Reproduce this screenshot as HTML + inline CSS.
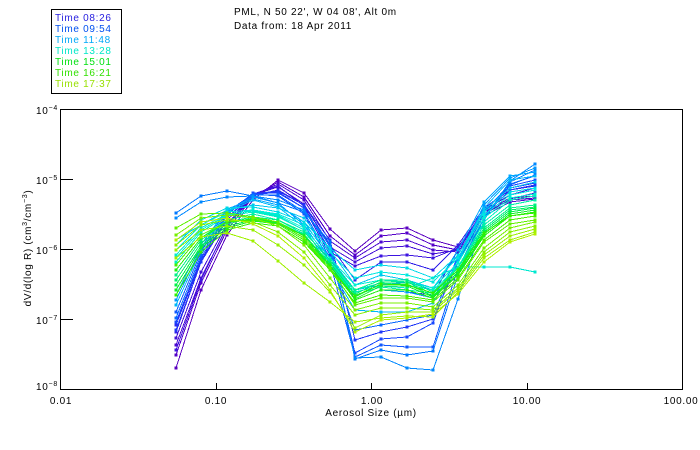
<!DOCTYPE html>
<html><head><meta charset="utf-8"><style>
html,body{margin:0;padding:0;background:#fff;}
svg{display:block;}
text{font-family:"Liberation Sans",sans-serif;font-size:10px;letter-spacing:0.7px;fill:#000;}
.s polyline{fill:none;stroke-width:1;}
.s path{fill:none;stroke-width:3;stroke-linecap:square;}
</style></head><body>
<svg width="700" height="450" viewBox="0 0 700 450" xmlns="http://www.w3.org/2000/svg">
<rect x="0" y="0" width="700" height="450" fill="#fff"/>
<!-- legend -->
<rect x="51.5" y="9.5" width="70" height="84" fill="none" stroke="#000" stroke-width="1"/>
<text x="55" y="21" style="fill:#2820e0">Time 08:26</text>
<text x="55" y="32" style="fill:#0050f0">Time 09:54</text>
<text x="55" y="43" style="fill:#00a8f8">Time 11:48</text>
<text x="55" y="54" style="fill:#00e8c8">Time 13:28</text>
<text x="55" y="65" style="fill:#00e010">Time 15:01</text>
<text x="55" y="76" style="fill:#30e000">Time 16:21</text>
<text x="55" y="87" style="fill:#98e000">Time 17:37</text>
<!-- title -->
<text x="234" y="15">PML, N 50 22', W 04 08', Alt 0m</text>
<text x="234" y="29">Data from: 18 Apr 2011</text>

<g shape-rendering="crispEdges">
<g class="s" stroke="#5a00c0"><polyline points="176,368 201,290 227,235 253,200 278,180 304,193 330,229 355,251 381,230 407,228 433,240 458,247 484,212 510,198 535,196"/><path d="M176 368h0M201 290h0M227 235h0M253 200h0M278 180h0M304 193h0M330 229h0M355 251h0M381 230h0M407 228h0M433 240h0M458 247h0M484 212h0M510 198h0M535 196h0"/></g>
<g class="s" stroke="#5400c8"><polyline points="176,355 201,283 227,230 253,197 278,182 304,197 330,236 355,255 381,236 407,233 433,245 458,250 484,214 510,200 535,198"/><path d="M176 355h0M201 283h0M227 230h0M253 197h0M278 182h0M304 197h0M330 236h0M355 255h0M381 236h0M407 233h0M433 245h0M458 250h0M484 214h0M510 200h0M535 198h0"/></g>
<g class="s" stroke="#4c08d0"><polyline points="176,345 201,278 227,227 253,196 278,184 304,200 330,241 355,258 381,242 407,240 433,250 458,252 484,216 510,202 535,199"/><path d="M176 345h0M201 278h0M227 227h0M253 196h0M278 184h0M304 200h0M330 241h0M355 258h0M381 242h0M407 240h0M433 250h0M458 252h0M484 216h0M510 202h0M535 199h0"/></g>
<g class="s" stroke="#4410d8"><polyline points="176,338 201,272 227,224 253,195 278,187 304,204 330,247 355,262 381,248 407,246 433,254 458,250 484,214 510,199 535,193"/><path d="M176 338h0M201 272h0M227 224h0M253 195h0M278 187h0M304 204h0M330 247h0M355 262h0M381 248h0M407 246h0M433 254h0M458 250h0M484 214h0M510 199h0M535 193h0"/></g>
<g class="s" stroke="#3c14e0"><polyline points="176,350 201,280 227,226 253,194 278,186 304,206 330,252 355,266 381,256 407,255 433,258 458,248 484,210 510,195 535,188"/><path d="M176 350h0M201 280h0M227 226h0M253 194h0M278 186h0M304 206h0M330 252h0M355 266h0M381 256h0M407 255h0M433 258h0M458 248h0M484 210h0M510 195h0M535 188h0"/></g>
<g class="s" stroke="#3020e8"><polyline points="176,332 201,262 227,220 253,196 278,190 304,205 330,245 355,280 381,262 407,262 433,270 458,245 484,208 510,190 535,186"/><path d="M176 332h0M201 262h0M227 220h0M253 196h0M278 190h0M304 205h0M330 245h0M355 280h0M381 262h0M407 262h0M433 270h0M458 245h0M484 208h0M510 190h0M535 186h0"/></g>
<g class="s" stroke="#2828f0"><polyline points="176,325 201,260 227,218 253,195 278,192 304,208 330,255 355,300 381,290 407,292 433,295 458,250 484,210 510,188 535,183"/><path d="M176 325h0M201 260h0M227 218h0M253 195h0M278 192h0M304 208h0M330 255h0M355 300h0M381 290h0M407 292h0M433 295h0M458 250h0M484 210h0M510 188h0M535 183h0"/></g>
<g class="s" stroke="#2038f8"><polyline points="176,330 201,262 227,218 253,194 278,191 304,205 330,240 355,340 381,332 407,327 433,319 458,262 484,215 510,190 535,185"/><path d="M176 330h0M201 262h0M227 218h0M253 194h0M278 191h0M304 205h0M330 240h0M355 340h0M381 332h0M407 327h0M433 319h0M458 262h0M484 215h0M510 190h0M535 185h0"/></g>
<g class="s" stroke="#1848ff"><polyline points="176,322 201,258 227,215 253,193 278,193 304,208 330,250 355,353 381,339 407,337 433,323 458,255 484,210 510,186 535,180"/><path d="M176 322h0M201 258h0M227 215h0M253 193h0M278 193h0M304 208h0M330 250h0M355 353h0M381 339h0M407 337h0M433 323h0M458 255h0M484 210h0M510 186h0M535 180h0"/></g>
<g class="s" stroke="#1058ff"><polyline points="176,312 201,252 227,212 253,194 278,196 304,214 330,262 355,357 381,345 407,347 433,347 458,268 484,218 510,185 535,175"/><path d="M176 312h0M201 252h0M227 212h0M253 194h0M278 196h0M304 214h0M330 262h0M355 357h0M381 345h0M407 347h0M433 347h0M458 268h0M484 218h0M510 185h0M535 175h0"/></g>
<g class="s" stroke="#0868ff"><polyline points="176,318 201,255 227,214 253,195 278,195 304,212 330,258 355,330 381,325 407,320 433,315 458,258 484,212 510,184 535,176"/><path d="M176 318h0M201 255h0M227 214h0M253 195h0M278 195h0M304 212h0M330 258h0M355 330h0M381 325h0M407 320h0M433 315h0M458 258h0M484 212h0M510 184h0M535 176h0"/></g>
<g class="s" stroke="#0078ff"><polyline points="176,213 201,196 227,191 253,196 278,203 304,212 330,242 355,359 381,350 407,355 433,351 458,275 484,218 510,182 535,170"/><path d="M176 213h0M201 196h0M227 191h0M253 196h0M278 203h0M304 212h0M330 242h0M355 359h0M381 350h0M407 355h0M433 351h0M458 275h0M484 218h0M510 182h0M535 170h0"/></g>
<g class="s" stroke="#0088ff"><polyline points="176,218 201,202 227,197 253,196 278,200 304,210 330,246 355,358 381,357 407,368 433,370 458,299 484,220 510,181 535,164"/><path d="M176 218h0M201 202h0M227 197h0M253 196h0M278 200h0M304 210h0M330 246h0M355 358h0M381 357h0M407 368h0M433 370h0M458 299h0M484 220h0M510 181h0M535 164h0"/></g>
<g class="s" stroke="#0098ff"><polyline points="176,300 201,248 227,210 253,197 278,203 304,225 330,262 355,300 381,290 407,292 433,298 458,260 484,205 510,178 535,168"/><path d="M176 300h0M201 248h0M227 210h0M253 197h0M278 203h0M304 225h0M330 262h0M355 300h0M381 290h0M407 292h0M433 298h0M458 260h0M484 205h0M510 178h0M535 168h0"/></g>
<g class="s" stroke="#00a8ff"><polyline points="176,295 201,245 227,209 253,199 278,205 304,222 330,258 355,290 381,285 407,282 433,290 458,250 484,202 510,176 535,172"/><path d="M176 295h0M201 245h0M227 209h0M253 199h0M278 205h0M304 222h0M330 258h0M355 290h0M381 285h0M407 282h0M433 290h0M458 250h0M484 202h0M510 176h0M535 172h0"/></g>
<g class="s" stroke="#00b8f8"><polyline points="176,305 201,250 227,212 253,200 278,207 304,227 330,268 355,310 381,312 407,312 433,303 458,262 484,208 510,180 535,176"/><path d="M176 305h0M201 250h0M227 212h0M253 200h0M278 207h0M304 227h0M330 268h0M355 310h0M381 312h0M407 312h0M433 303h0M458 262h0M484 208h0M510 180h0M535 176h0"/></g>
<g class="s" stroke="#00c8f0"><polyline points="176,240 201,225 227,210 253,205 278,208 304,218 330,250 355,285 381,275 407,280 433,288 458,255 484,210 510,188 535,182"/><path d="M176 240h0M201 225h0M227 210h0M253 205h0M278 208h0M304 218h0M330 250h0M355 285h0M381 275h0M407 280h0M433 288h0M458 255h0M484 210h0M510 188h0M535 182h0"/></g>
<g class="s" stroke="#00d8e8"><polyline points="176,245 201,220 227,208 253,207 278,212 304,222 330,248 355,270 381,265 407,268 433,278 458,255 484,212 510,192 535,188"/><path d="M176 245h0M201 220h0M227 208h0M253 207h0M278 212h0M304 222h0M330 248h0M355 270h0M381 265h0M407 268h0M433 278h0M458 255h0M484 212h0M510 192h0M535 188h0"/></g>
<g class="s" stroke="#00e8e0"><polyline points="176,250 201,225 227,212 253,210 278,214 304,225 330,252 355,278 381,272 407,275 433,282 458,258 484,215 510,195 535,190"/><path d="M176 250h0M201 225h0M227 212h0M253 210h0M278 214h0M304 225h0M330 252h0M355 278h0M381 272h0M407 275h0M433 282h0M458 258h0M484 215h0M510 195h0M535 190h0"/></g>
<g class="s" stroke="#00f0d0"><polyline points="176,258 201,230 227,215 253,210 278,215 304,228 330,258 355,285 381,280 407,282 433,288 458,263 484,218 510,198 535,194"/><path d="M176 258h0M201 230h0M227 215h0M253 210h0M278 215h0M304 228h0M330 258h0M355 285h0M381 280h0M407 282h0M433 288h0M458 263h0M484 218h0M510 198h0M535 194h0"/></g>
<g class="s" stroke="#00f0c0"><polyline points="176,262 201,232 227,216 253,212 278,217 304,230 330,262 355,290 381,283 407,285 433,290 458,267 484,222 510,200 535,196"/><path d="M176 262h0M201 232h0M227 216h0M253 212h0M278 217h0M304 230h0M330 262h0M355 290h0M381 283h0M407 285h0M433 290h0M458 267h0M484 222h0M510 200h0M535 196h0"/></g>
<g class="s" stroke="#00e8d0"><polyline points="176,255 201,228 227,214 253,211 278,216 304,230 330,262 355,292 381,286 407,288 433,278 458,267 484,267 510,267 535,272"/><path d="M176 255h0M201 228h0M227 214h0M253 211h0M278 216h0M304 230h0M330 262h0M355 292h0M381 286h0M407 288h0M433 278h0M458 267h0M484 267h0M510 267h0M535 272h0"/></g>
<g class="s" stroke="#00f0a8"><polyline points="176,270 201,238 227,220 253,214 278,220 304,234 330,265 355,295 381,287 407,290 433,293 458,268 484,225 510,205 535,200"/><path d="M176 270h0M201 238h0M227 220h0M253 214h0M278 220h0M304 234h0M330 265h0M355 295h0M381 287h0M407 290h0M433 293h0M458 268h0M484 225h0M510 205h0M535 200h0"/></g>
<g class="s" stroke="#00f088"><polyline points="176,275 201,240 227,222 253,217 278,220 304,232 330,260 355,290 381,280 407,280 433,292 458,268 484,228 510,208 535,205"/><path d="M176 275h0M201 240h0M227 222h0M253 217h0M278 220h0M304 232h0M330 260h0M355 290h0M381 280h0M407 280h0M433 292h0M458 268h0M484 228h0M510 208h0M535 205h0"/></g>
<g class="s" stroke="#00f068"><polyline points="176,280 201,243 227,224 253,218 278,222 304,235 330,263 355,294 381,282 407,282 433,294 458,270 484,230 510,210 535,207"/><path d="M176 280h0M201 243h0M227 224h0M253 218h0M278 222h0M304 235h0M330 263h0M355 294h0M381 282h0M407 282h0M433 294h0M458 270h0M484 230h0M510 210h0M535 207h0"/></g>
<g class="s" stroke="#00f048"><polyline points="176,285 201,246 227,226 253,220 278,223 304,238 330,266 355,297 381,284 407,284 433,296 458,272 484,232 510,212 535,208"/><path d="M176 285h0M201 246h0M227 226h0M253 220h0M278 223h0M304 238h0M330 266h0M355 297h0M381 284h0M407 284h0M433 296h0M458 272h0M484 232h0M510 212h0M535 208h0"/></g>
<g class="s" stroke="#10f028"><polyline points="176,290 201,248 227,228 253,221 278,224 304,240 330,268 355,299 381,286 407,286 433,297 458,274 484,234 510,214 535,210"/><path d="M176 290h0M201 248h0M227 228h0M253 221h0M278 224h0M304 240h0M330 268h0M355 299h0M381 286h0M407 286h0M433 297h0M458 274h0M484 234h0M510 214h0M535 210h0"/></g>
<g class="s" stroke="#20f010"><polyline points="176,270 201,238 227,222 253,219 278,222 304,236 330,265 355,300 381,290 407,290 433,298 458,275 484,236 510,216 535,212"/><path d="M176 270h0M201 238h0M227 222h0M253 219h0M278 222h0M304 236h0M330 265h0M355 300h0M381 290h0M407 290h0M433 298h0M458 275h0M484 236h0M510 216h0M535 212h0"/></g>
<g class="s" stroke="#30f000"><polyline points="176,295 201,252 227,230 253,223 278,226 304,242 330,270 355,296 381,284 407,285 433,293 458,270 484,233 510,216 535,213"/><path d="M176 295h0M201 252h0M227 230h0M253 223h0M278 226h0M304 242h0M330 270h0M355 296h0M381 284h0M407 285h0M433 293h0M458 270h0M484 233h0M510 216h0M535 213h0"/></g>
<g class="s" stroke="#48f000"><polyline points="176,265 201,235 227,222 253,220 278,224 304,240 330,270 355,303 381,295 407,296 433,300 458,278 484,240 510,220 535,216"/><path d="M176 265h0M201 235h0M227 222h0M253 220h0M278 224h0M304 240h0M330 270h0M355 303h0M381 295h0M407 296h0M433 300h0M458 278h0M484 240h0M510 220h0M535 216h0"/></g>
<g class="s" stroke="#60f000"><polyline points="176,228 201,214 227,213 253,217 278,222 304,238 330,268 355,305 381,298 407,298 433,302 458,280 484,242 510,224 535,220"/><path d="M176 228h0M201 214h0M227 213h0M253 217h0M278 222h0M304 238h0M330 268h0M355 305h0M381 298h0M407 298h0M433 302h0M458 280h0M484 242h0M510 224h0M535 220h0"/></g>
<g class="s" stroke="#78f000"><polyline points="176,235 201,218 227,215 253,218 278,226 304,245 330,278 355,310 381,303 407,303 433,307 458,285 484,248 510,228 535,222"/><path d="M176 235h0M201 218h0M227 215h0M253 218h0M278 226h0M304 245h0M330 278h0M355 310h0M381 303h0M407 303h0M433 307h0M458 285h0M484 248h0M510 228h0M535 222h0"/></g>
<g class="s" stroke="#88f000"><polyline points="176,245 201,225 227,220 253,222 278,232 304,252 330,285 355,315 381,308 407,308 433,310 458,288 484,252 510,232 535,226"/><path d="M176 245h0M201 225h0M227 220h0M253 222h0M278 232h0M304 252h0M330 285h0M355 315h0M381 308h0M407 308h0M433 310h0M458 288h0M484 252h0M510 232h0M535 226h0"/></g>
<g class="s" stroke="#98f000"><polyline points="176,250 201,230 227,226 253,230 278,245 304,265 330,292 355,328 381,315 407,312 433,312 458,290 484,255 510,236 535,229"/><path d="M176 250h0M201 230h0M227 226h0M253 230h0M278 245h0M304 265h0M330 292h0M355 328h0M381 315h0M407 312h0M433 312h0M458 290h0M484 255h0M510 236h0M535 229h0"/></g>
<g class="s" stroke="#a0f000"><polyline points="176,258 201,237 227,233 253,241 278,261 304,283 330,302 355,322 381,318 407,316 433,317 458,292 484,258 510,240 535,232"/><path d="M176 258h0M201 237h0M227 233h0M253 241h0M278 261h0M304 283h0M330 302h0M355 322h0M381 318h0M407 316h0M433 317h0M458 292h0M484 258h0M510 240h0M535 232h0"/></g>
<g class="s" stroke="#b0f000"><polyline points="176,240 201,222 227,218 253,224 278,236 304,258 330,290 355,332 381,320 407,318 433,314 458,294 484,262 510,242 535,234"/><path d="M176 240h0M201 222h0M227 218h0M253 224h0M278 236h0M304 258h0M330 290h0M355 332h0M381 320h0M407 318h0M433 314h0M458 294h0M484 262h0M510 242h0M535 234h0"/></g>

<!-- axes frame -->
<rect x="60.5" y="109.5" width="622" height="280" fill="none" stroke="#000" stroke-width="1"/>
<g stroke="#000" stroke-width="1">
<line x1="61" y1="179.5" x2="73" y2="179.5"/>
<line x1="61" y1="249.5" x2="73" y2="249.5"/>
<line x1="61" y1="319.5" x2="73" y2="319.5"/>
<line x1="216.5" y1="383" x2="216.5" y2="389"/>
<line x1="371.5" y1="383" x2="371.5" y2="389"/>
<line x1="527.5" y1="383" x2="527.5" y2="389"/>
</g>
</g>

<!-- y tick labels -->
<text x="36" y="114">10<tspan dy="-4" style="font-size:7px">−4</tspan></text>
<text x="36" y="184">10<tspan dy="-4" style="font-size:7px">−5</tspan></text>
<text x="36" y="254">10<tspan dy="-4" style="font-size:7px">−6</tspan></text>
<text x="36" y="324">10<tspan dy="-4" style="font-size:7px">−7</tspan></text>
<text x="36" y="390">10<tspan dy="-4" style="font-size:7px">−8</tspan></text>
<!-- x tick labels -->
<text x="61" y="404" text-anchor="middle">0.01</text>
<text x="216" y="404" text-anchor="middle">0.10</text>
<text x="372" y="404" text-anchor="middle">1.00</text>
<text x="527" y="404" text-anchor="middle">10.00</text>
<text x="681" y="404" text-anchor="middle">100.00</text>
<!-- axis titles -->
<text x="371" y="416" text-anchor="middle">Aerosol Size (µm)</text>
<text transform="translate(31,248) rotate(-90)" text-anchor="middle">dV/d(log R) (cm<tspan dy="-4" style="font-size:7px">3</tspan><tspan dy="4">/cm</tspan><tspan dy="-4" style="font-size:7px">−3</tspan><tspan dy="4">)</tspan></text>
</svg>
</body></html>
